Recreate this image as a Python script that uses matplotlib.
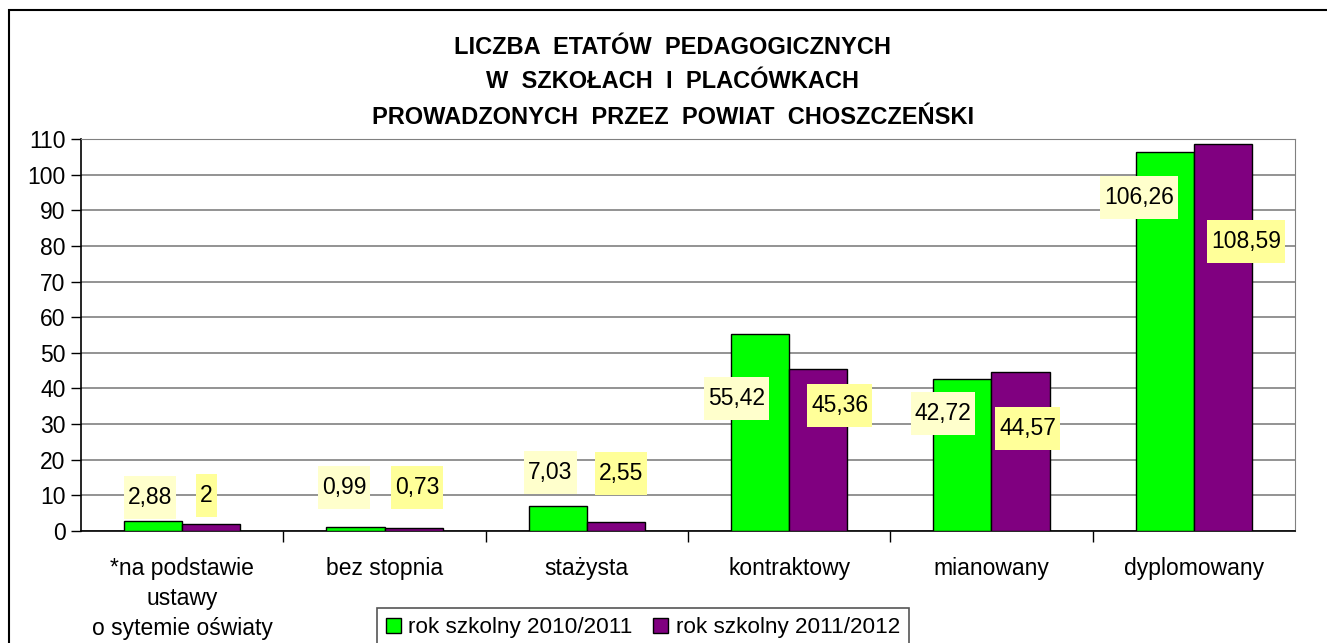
import matplotlib
matplotlib.use('Agg')
import matplotlib.pyplot as plt
import matplotlib.patches as patches
import numpy as np

plt.rcParams['font.family'] = ['Liberation Sans', 'DejaVu Sans']

# dane
kategorie = ['*na podstawie\nustawy\no sytemie oświaty', 'bez stopnia', 'stażysta',
             'kontraktowy', 'mianowany', 'dyplomowany']
rok_2010 = [2.88, 0.99, 7.03, 55.42, 42.72, 106.26]
rok_2011 = [2.00, 0.73, 2.55, 45.36, 44.57, 108.59]
etykiety_2010 = ['2,88', '0,99', '7,03', '55,42', '42,72', '106,26']
etykiety_2011 = ['2', '0,73', '2,55', '45,36', '44,57', '108,59']
seria = ['rok szkolny 2010/2011', 'rok szkolny 2011/2012']

# położenie etykiet (przesunięte ręcznie jak w Excelu)
dx_2010 = [-0.16, -0.20, -0.18, -0.26, -0.24, -0.27]
dy_2010 = [9.5, 12.3, 16.3, 37.3, 33.1, 93.7]
dx_2011 = [0.12, 0.16, 0.17, 0.25, 0.18, 0.26]
dy_2011 = [10.1, 12.1, 16.0, 35.1, 28.9, 81.1]

W, H = 1327, 643
fig = plt.figure(figsize=(W / 100, H / 100), dpi=100)
ax = fig.add_axes([81 / W, 1 - 531 / H, (1295 - 81) / W, (531 - 139) / H])

# ramka wykresu
fig.patches.append(patches.Rectangle((9 / W, -0.05), 1.1, 1 - 10 / H + 0.05,
                                     transform=fig.transFigure, fill=False,
                                     edgecolor='black', linewidth=1.5))

x = np.arange(len(kategorie))
w = 0.287
ax.bar(x - w / 2, rok_2010, w, color='#00FF00', edgecolor='black', linewidth=1, label=seria[0], zorder=3)
ax.bar(x + w / 2, rok_2011, w, color='#800080', edgecolor='black', linewidth=1, label=seria[1], zorder=3)

etykiety = []
for i in range(len(kategorie)):
    t1 = ax.text(i + dx_2010[i], dy_2010[i], etykiety_2010[i], ha='center', va='center',
                 fontsize=16.5, zorder=5)
    t2 = ax.text(i + dx_2011[i], dy_2011[i], etykiety_2011[i], ha='center', va='center',
                 fontsize=16.5, zorder=5)
    etykiety.append((t1, '#FFFFCC'))
    etykiety.append((t2, '#FFFF99'))

ax.set_xlim(-0.5, len(kategorie) - 0.5)
ax.set_ylim(0, 110)
ax.set_yticks(range(0, 111, 10))
ax.tick_params(axis='y', labelsize=16.5, length=7, width=1, direction='out', pad=4)
ax.yaxis.grid(True, color='#808080', linewidth=1.2, zorder=0)

ax.set_xticks(x)
ax.set_xticklabels(kategorie, fontsize=16.5, linespacing=1.38, va='top')
ax.tick_params(axis='x', length=0, pad=19)
ax.set_xticks(np.arange(0.5, len(kategorie) - 0.5, 1), minor=True)
ax.tick_params(axis='x', which='minor', length=8, width=1, direction='out')

for s in ['top', 'right']:
    ax.spines[s].set_color('#808080')
for s in ['left', 'bottom']:
    ax.spines[s].set_color('black')
    ax.spines[s].set_linewidth(1.2)

for y, t in [(47, 'LICZBA  ETATÓW  PEDAGOGICZNYCH'), (82, 'W  SZKOŁACH  I  PLACÓWKACH'),
             (117, 'PROWADZONYCH  PRZEZ  POWIAT  CHOSZCZEŃSKI')]:
    fig.text(673 / W, 1 - y / H, t, ha='center', va='center', fontsize=17, fontweight='bold')

leg = fig.legend(loc='upper left', bbox_to_anchor=(377 / W, 1 - 608 / H), ncol=2, fontsize=16.2,
                 handlelength=0.65, handleheight=0.65, handletextpad=0.35, columnspacing=0.9,
                 borderpad=0.4, borderaxespad=0, fancybox=False, framealpha=1, edgecolor='#555555')
leg.get_frame().set_linewidth(1.2)
for h in leg.legend_handles:
    h.set_edgecolor('black')

# tła etykiet danych (żółte prostokąty)
fig.canvas.draw()
r = fig.canvas.get_renderer()
inv = fig.transFigure.inverted()
for t, kolor in etykiety:
    bb = t.get_window_extent(r)
    cx, cy = (bb.x0 + bb.x1) / 2, (bb.y0 + bb.y1) / 2
    bw, bh = bb.width + 8, 43
    (fx0, fy0) = inv.transform((cx - bw / 2, cy - bh / 2))
    (fx1, fy1) = inv.transform((cx + bw / 2, cy + bh / 2))
    fig.patches.append(patches.Rectangle((fx0, fy0), fx1 - fx0, fy1 - fy0, transform=fig.transFigure,
                                         facecolor=kolor, edgecolor='none', zorder=4))
    t.set_zorder(6)
    t.remove()
    fig.texts.append(t)
    t.set_figure(fig)
    t.set_transform(fig.transFigure)
    t.set_position(inv.transform((cx, cy)))

plt.savefig('out.png', dpi=100)
